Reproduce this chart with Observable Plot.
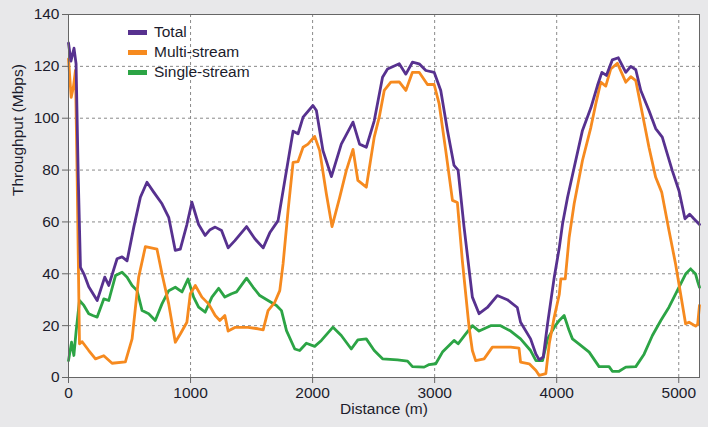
<!DOCTYPE html>
<html>
<head>
<meta charset="utf-8">
<script src="https://cdn.jsdelivr.net/npm/d3@7"></script>
<script src="https://cdn.jsdelivr.net/npm/@observablehq/plot@0.6"></script>
<style>
  html, body { margin: 0; padding: 0; background: #e8e8ea; }
  #wrap { position: relative; width: 708px; height: 427px; font-family: "Liberation Sans", Arial, sans-serif; }
  .legend { position: absolute; left: 128px; top: 22px; font-size: 15.5px; color: #1c1c2c; line-height: 20px; }
  .legend div { display: flex; align-items: center; height: 20px; }
  .legend span.sw { display: inline-block; width: 19px; height: 5px; margin-right: 7px; }
</style>
</head>
<body>
<div id="wrap"></div>
<script>
const seriesNames = ["Total", "Multi-stream", "Single-stream"];
const seriesColors = ["#57318f", "#f68a1f", "#2ca445"];

const totalX = [0, 20, 45, 62, 80, 98, 126, 166, 235, 297, 330, 398, 439, 480, 535, 589, 643, 698, 766, 821, 875, 916, 970, 1011, 1066, 1120, 1160, 1202, 1254, 1308, 1363, 1459, 1527, 1595, 1649, 1717, 1786, 1840, 1881, 1922, 2003, 2031, 2085, 2154, 2235, 2331, 2385, 2440, 2505, 2573, 2614, 2710, 2764, 2818, 2873, 2928, 2996, 3050, 3105, 3159, 3192, 3241, 3309, 3364, 3432, 3513, 3595, 3677, 3704, 3786, 3830, 3857, 3890, 3925, 3980, 4021, 4048, 4089, 4143, 4211, 4280, 4334, 4370, 4407, 4456, 4505, 4566, 4607, 4648, 4689, 4756, 4811, 4865, 4947, 5002, 5051, 5089, 5124, 5170];
const totalY = [129, 122, 127, 121, 77, 42.5, 40, 35, 29.7, 38.7, 35.5, 45.8, 46.5, 45, 58, 69.5, 75.3, 71.5, 67, 61.8, 49, 49.5, 59, 67.6, 59, 54.8, 57, 58, 56.7, 50, 52.8, 58.2, 53.5, 50, 55.8, 60.5, 79.8, 95, 94, 100.4, 104.9, 103, 87.5, 77.5, 90, 98.5, 90, 88.8, 99, 115.8, 119, 121, 117, 121.6, 121, 118.4, 117.7, 110.7, 95.3, 81.8, 80, 58, 31, 24.6, 27, 31.6, 30, 27, 21.3, 14.9, 9, 6.8, 7.9, 20.7, 38.7, 50, 59.3, 69.5, 81, 95.3, 104, 112.6, 117.7, 116.5, 122.5, 123.3, 117.7, 120, 118.7, 110.7, 103, 96, 92.7, 79.8, 72, 61.2, 63, 61.2, 59];

const multiX = [0, 22, 40, 57, 71, 90, 112, 166, 221, 289, 357, 466, 521, 575, 630, 725, 766, 821, 875, 916, 970, 998, 1039, 1093, 1148, 1202, 1240, 1281, 1308, 1363, 1472, 1553, 1595, 1635, 1690, 1731, 1758, 1799, 1840, 1881, 1922, 1962, 2017, 2058, 2113, 2159, 2222, 2276, 2331, 2371, 2440, 2505, 2546, 2587, 2641, 2710, 2764, 2818, 2873, 2941, 2996, 3037, 3091, 3146, 3186, 3227, 3282, 3309, 3336, 3405, 3473, 3623, 3691, 3704, 3775, 3830, 3857, 3911, 3939, 3980, 4021, 4034, 4070, 4102, 4143, 4211, 4280, 4320, 4361, 4402, 4443, 4497, 4566, 4607, 4648, 4702, 4756, 4811, 4860, 4920, 4974, 5015, 5056, 5084, 5138, 5155, 5170];
const multiY = [122.9, 108, 112, 118.4, 77, 13, 13.8, 10.4, 7.2, 8.4, 5.5, 6, 14.9, 38.7, 50.5, 49.5, 40, 28.4, 13.6, 16.8, 21.3, 32.3, 35.5, 31, 28.4, 23.9, 22, 23.9, 17.9, 19.3, 19.3, 18.8, 18.4, 25.8, 29, 33.5, 43.8, 64.4, 83, 83.3, 88.8, 90, 93, 87.5, 70.8, 58.2, 69.5, 79.8, 88, 76, 73.4, 92.7, 100.4, 110.7, 113.9, 114, 110.7, 117.7, 117.7, 113, 113, 105.5, 87.5, 68.3, 67.5, 45, 19.4, 10.4, 6.5, 7.2, 11.7, 11.7, 11.3, 5.9, 5.3, 2.7, 0.8, 1.5, 13, 23.3, 32, 38, 38, 54, 67, 83.7, 96.5, 105.5, 113.9, 112.4, 119, 121.2, 113.9, 116, 114.5, 101.7, 88.8, 77.2, 71.5, 56.7, 43.8, 32.3, 20.7, 21.3, 19.8, 20.5, 27.8];

const singleX = [0, 25, 44, 63, 90, 126, 166, 199, 235, 289, 330, 385, 439, 480, 521, 562, 603, 657, 711, 766, 821, 875, 930, 979, 1025, 1066, 1120, 1175, 1230, 1281, 1336, 1377, 1459, 1513, 1567, 1635, 1704, 1745, 1786, 1854, 1894, 1949, 2017, 2072, 2167, 2235, 2317, 2371, 2440, 2505, 2573, 2696, 2778, 2818, 2914, 2955, 3009, 3064, 3159, 3192, 3255, 3309, 3364, 3459, 3540, 3623, 3704, 3786, 3830, 3884, 3925, 3980, 4021, 4061, 4102, 4129, 4184, 4266, 4347, 4429, 4456, 4511, 4566, 4648, 4716, 4784, 4853, 4920, 4988, 5056, 5097, 5138, 5155, 5170];
const singleY = [6.5, 13.6, 8.5, 18.1, 29.7, 27.8, 24.6, 23.9, 23.3, 30.3, 29.7, 39.3, 40.6, 38.7, 35.5, 33.5, 25.8, 24.6, 22, 28.4, 33.5, 34.8, 33, 38, 31, 27.1, 25.2, 31, 34.4, 31, 32.3, 33, 38.3, 34.8, 31.6, 29.7, 27.8, 25.8, 18.1, 11, 10.4, 13.2, 12, 14.3, 19.4, 16.2, 11, 14.5, 14.9, 10.4, 7.2, 6.8, 6.3, 4.2, 4, 5, 5.3, 9.8, 14.3, 13, 16.8, 20, 17.9, 20, 20, 17.9, 14.9, 10.4, 6.5, 6.5, 14.9, 19.4, 22, 23.9, 18.1, 14.9, 12.9, 9.8, 4.2, 4.2, 2.4, 2.4, 4, 4.2, 9, 16.2, 22, 27.1, 33.5, 39.9, 41.9, 39.9, 37, 34.8];

const xTicks = [0, 1000, 2000, 3000, 4000, 5000];
const yTicks = [0, 20, 40, 60, 80, 100, 120, 140];

const toRows = (xs, ys, name) => xs.map((x, i) => ({x, y: ys[i], series: name}));
const rows = [
  ...toRows(singleX, singleY, seriesNames[2]),
  ...toRows(multiX, multiY, seriesNames[1]),
  ...toRows(totalX, totalY, seriesNames[0])
];

const chart = Plot.plot({
  width: 708,
  height: 427,
  marginLeft: 68,
  marginRight: 9,
  marginTop: 14,
  marginBottom: 50,
  style: {background: "#e8e8ea", fontFamily: "'Liberation Sans', Arial, sans-serif", fontSize: "15px", color: "#1c1c2c"},
  x: {domain: [0, 5170]},
  y: {domain: [0, 140]},
  color: {domain: seriesNames, range: seriesColors},
  marks: [
    Plot.frame({fill: "white"}),
    Plot.gridX(xTicks, {stroke: "#8a8a8a", strokeOpacity: 1, strokeDasharray: "3,3"}),
    Plot.gridY(yTicks, {stroke: "#8a8a8a", strokeOpacity: 1, strokeDasharray: "3,3"}),
    Plot.line(rows, {x: "x", y: "y", z: "series", stroke: "series", strokeWidth: 2.8, strokeLinejoin: "round"}),
    Plot.frame({stroke: "#666"}),
    Plot.axisX(xTicks, {tickSize: 6, tickPadding: 3, fontSize: 15.5, stroke: "#666", label: null, tickFormat: d => String(d)}),
    Plot.axisY(yTicks, {tickSize: 6, tickPadding: 3, fontSize: 15.5, stroke: "#666", label: null}),
    Plot.text(["Distance (m)"], {frameAnchor: "bottom", dy: 36, fontSize: 15.5, fill: "#1c1c2c"}),
    Plot.text(["Throughput (Mbps)"], {frameAnchor: "left", dx: -50, rotate: -90, fontSize: 15.5, fill: "#1c1c2c"})
  ]
});
document.getElementById("wrap").appendChild(chart);

const legend = document.createElement("div");
legend.className = "legend";
seriesNames.forEach((name, i) => {
  const row = document.createElement("div");
  const sw = document.createElement("span");
  sw.className = "sw";
  sw.style.background = seriesColors[i];
  row.appendChild(sw);
  row.appendChild(document.createTextNode(name));
  legend.appendChild(row);
});
document.getElementById("wrap").appendChild(legend);
</script>
</body>
</html>
